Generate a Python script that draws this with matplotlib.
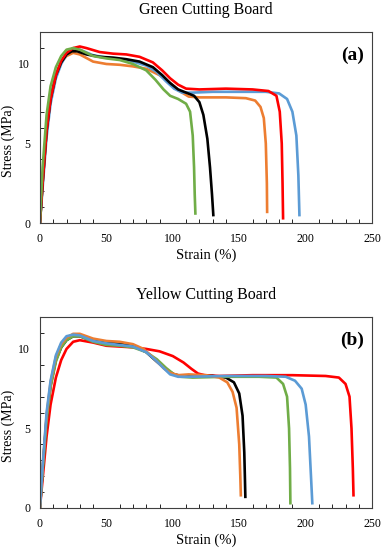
import matplotlib.pyplot as plt
from matplotlib.ticker import MultipleLocator

plt.rcParams['font.family'] = ['Liberation Serif', 'DejaVu Serif']

# colours of the five specimens
colors = {'blue': '#5B9BD5', 'orange': '#ED7D31', 'green': '#70AD47',
          'red': '#FF0000', 'black': '#000000'}

# ---- Green cutting board (a) ----
a_green_x = [0, 2, 5, 8, 12, 16, 20, 25, 30, 40, 50, 60, 70, 80, 87, 93, 98, 104, 110, 113, 115, 116, 116.5, 117]
a_green_y = [0, 3.5, 6.8, 8.6, 9.8, 10.5, 10.9, 11.0, 10.9, 10.5, 10.35, 10.25, 10.0, 9.6, 9.0, 8.4, 8.0, 7.8, 7.5, 7.0, 5.5, 3.5, 1.8, 0.6]
a_black_x = [0, 2, 5, 8, 12, 16, 20, 24, 28, 35, 45, 55, 65, 75, 85, 92, 98, 104, 110, 116, 120, 123, 126, 128, 129.5, 130.5]
a_black_y = [0, 2.5, 5.8, 7.8, 9.3, 10.1, 10.6, 10.8, 10.8, 10.6, 10.45, 10.4, 10.3, 10.15, 9.8, 9.3, 8.8, 8.4, 8.2, 8.0, 7.6, 6.8, 5.3, 3.5, 1.8, 0.5]
a_orange_x = [0, 2, 5, 8, 12, 16, 20, 25, 30, 40, 50, 60, 70, 80, 90, 98, 105, 112, 120, 140, 155, 162, 166, 168.5, 170, 170.8, 171]
a_orange_y = [0, 2.5, 5.8, 7.8, 9.3, 10.1, 10.5, 10.7, 10.6, 10.15, 10.0, 9.95, 9.85, 9.7, 9.3, 8.8, 8.3, 7.95, 7.9, 7.9, 7.85, 7.7, 7.3, 6.6, 5.0, 2.5, 0.7]
a_red_x = [0, 2, 5, 8, 12, 16, 20, 25, 30, 35, 45, 55, 65, 75, 85, 92, 98, 104, 110, 120, 140, 160, 172, 178, 180.5, 182, 182.6, 183]
a_red_y = [0, 2.5, 5.8, 7.8, 9.3, 10.2, 10.7, 11.0, 11.1, 11.0, 10.75, 10.65, 10.6, 10.45, 10.1, 9.6, 9.1, 8.7, 8.45, 8.4, 8.45, 8.4, 8.3, 8.0, 7.0, 5.0, 2.5, 0.3]
a_blue_x = [0, 2, 5, 8, 12, 16, 20, 25, 30, 40, 50, 60, 70, 80, 88, 95, 101, 107, 115, 130, 150, 170, 180, 186, 190, 193, 194.5, 195.3]
a_blue_y = [0, 2.2, 5.4, 7.5, 9.1, 10.0, 10.6, 10.95, 10.9, 10.55, 10.4, 10.3, 10.15, 9.9, 9.5, 8.9, 8.45, 8.2, 8.2, 8.25, 8.25, 8.25, 8.15, 7.8, 7.0, 5.5, 3.0, 0.5]

# ---- Yellow cutting board (b) ----
b_red_x = [0, 2, 5, 8, 12, 16, 20, 25, 30, 40, 50, 60, 70, 80, 90, 100, 108, 114, 119, 124, 135, 160, 190, 215, 225, 230, 233, 234.5, 235.5, 236]
b_red_y = [0, 1.8, 4.5, 6.5, 8.2, 9.3, 10.0, 10.45, 10.55, 10.4, 10.2, 10.15, 10.1, 10.0, 9.85, 9.55, 9.15, 8.75, 8.45, 8.35, 8.3, 8.35, 8.35, 8.3, 8.2, 7.8, 7.0, 5.0, 2.5, 0.8]
b_orange_x = [0, 2, 5, 8, 12, 16, 20, 25, 30, 40, 50, 60, 70, 78, 86, 93, 98, 104, 112, 125, 135, 141, 145, 148, 150, 150.8, 151.2]
b_orange_y = [0, 2.5, 5.8, 7.9, 9.5, 10.3, 10.7, 10.95, 10.95, 10.65, 10.5, 10.45, 10.3, 10.0, 9.4, 8.8, 8.5, 8.35, 8.4, 8.35, 8.2, 7.9, 7.3, 6.3, 4.0, 2.0, 0.8]
b_black_x = [0, 2, 5, 8, 12, 16, 20, 25, 30, 40, 50, 60, 70, 80, 88, 95, 101, 107, 115, 130, 140, 146, 150, 152.5, 153.8, 154.3, 154.6]
b_black_y = [0, 2.4, 5.6, 7.7, 9.3, 10.1, 10.55, 10.8, 10.8, 10.5, 10.4, 10.35, 10.2, 9.8, 9.2, 8.7, 8.4, 8.3, 8.3, 8.3, 8.2, 7.9, 7.2, 5.8, 3.5, 1.8, 0.7]
b_green_x = [0, 2, 5, 8, 12, 16, 20, 25, 30, 40, 50, 60, 70, 80, 88, 95, 101, 106, 115, 140, 165, 178, 183, 186, 187.5, 188.2, 188.5]
b_green_y = [0, 2.3, 5.5, 7.6, 9.2, 10.1, 10.55, 10.8, 10.8, 10.45, 10.25, 10.2, 10.1, 9.8, 9.35, 8.8, 8.4, 8.25, 8.2, 8.25, 8.25, 8.2, 7.8, 7.0, 5.0, 2.5, 0.3]
b_blue_x = [0, 2, 5, 8, 12, 16, 20, 25, 30, 40, 50, 60, 70, 80, 87, 93, 98, 104, 112, 140, 170, 185, 192, 197, 200, 202.5, 204, 205]
b_blue_y = [0, 2.6, 6.0, 8.0, 9.6, 10.4, 10.8, 10.9, 10.85, 10.5, 10.35, 10.25, 10.15, 9.8, 9.3, 8.8, 8.4, 8.25, 8.25, 8.3, 8.3, 8.25, 8.0, 7.5, 6.5, 4.5, 2.0, 0.3]

panel_a = [(a_orange_x, a_orange_y, 'orange'), (a_blue_x, a_blue_y, 'blue'),
           (a_black_x, a_black_y, 'black'), (a_red_x, a_red_y, 'red'),
           (a_green_x, a_green_y, 'green')]
panel_b = [(b_red_x, b_red_y, 'red'), (b_black_x, b_black_y, 'black'),
           (b_green_x, b_green_y, 'green'), (b_orange_x, b_orange_y, 'orange'),
           (b_blue_x, b_blue_y, 'blue')]


def draw(ax, curves, title, tag):
    for x, y, c in curves:
        ax.plot(x, y, color=colors[c], lw=1.9, solid_joinstyle='round')
    ax.set_xlim(0, 250)
    ax.set_ylim(0, 12)
    ax.xaxis.set_major_locator(MultipleLocator(50))
    ax.xaxis.set_minor_locator(MultipleLocator(10))
    ax.yaxis.set_major_locator(MultipleLocator(5))
    ax.yaxis.set_minor_locator(MultipleLocator(1))
    ax.tick_params(which='major', direction='in', length=0, labelsize=8.5, pad=7)
    ax.tick_params(which='minor', direction='in', length=3, width=0.6)
    ax.set_xlabel('Strain (%)', fontsize=10.5, labelpad=3)
    ax.set_ylabel('Stress (MPa)', fontsize=10)
    ax.yaxis.set_label_coords(-0.075, 0.43)
    ax.set_title(title, fontsize=11.5, pad=13)
    ax.text(0.94, 0.88, tag, transform=ax.transAxes, fontsize=14,
            fontweight='bold', ha='center', va='center')
    for s in ax.spines.values():
        s.set_linewidth(0.8)
        s.set_color('#404040')


fig = plt.figure(figsize=(3.84, 5.5), dpi=100)
ax1 = fig.add_axes([0.104, 0.5945, 0.865, 0.347])
ax2 = fig.add_axes([0.104, 0.0764, 0.865, 0.347])
draw(ax1, panel_a, 'Green Cutting Board', '(a)')
draw(ax2, panel_b, 'Yellow Cutting Board', '(b)')

fig.savefig('out.png', dpi=100)
